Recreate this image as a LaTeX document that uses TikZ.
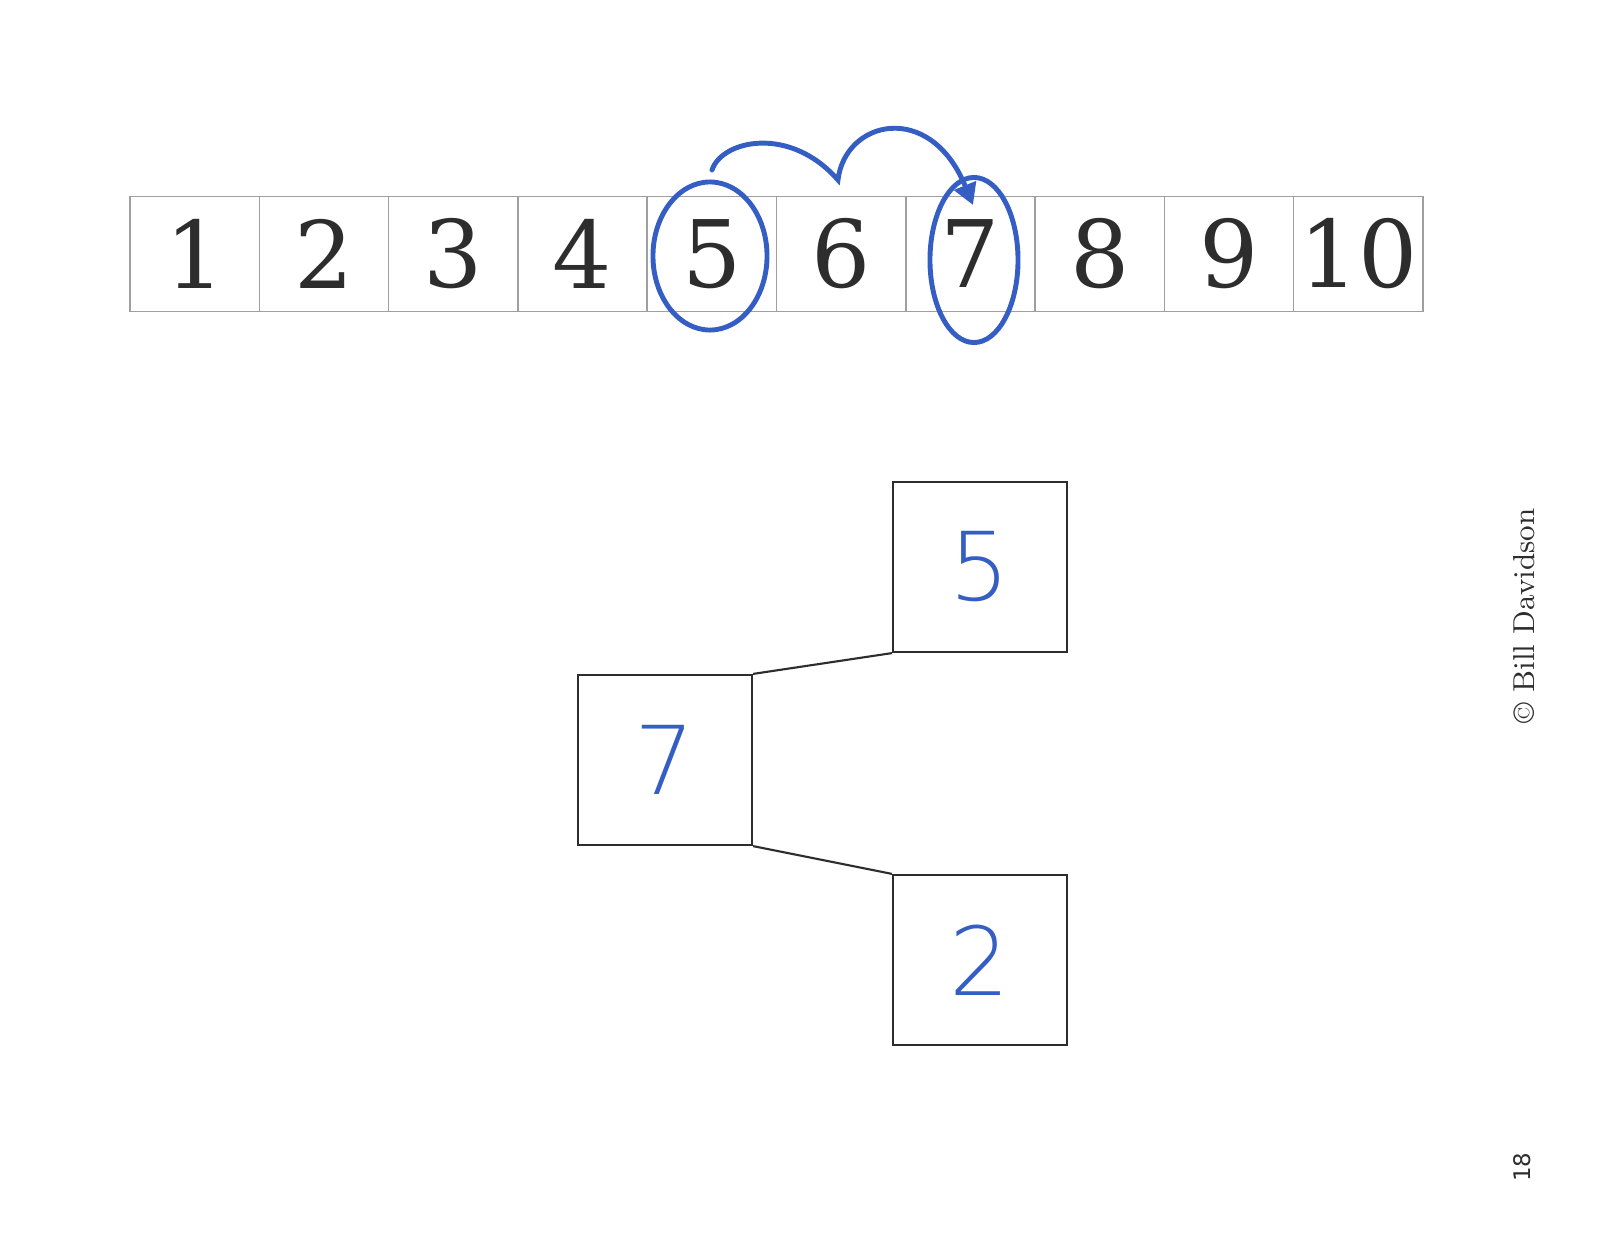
\documentclass[tikz,border=0pt]{standalone}
\usepackage{fontspec}
\usepackage{tikz}
\usetikzlibrary{shapes.geometric,arrows.meta}
\newfontfamily\handfont{DejaVu Sans}[UprightFont=* ExtraLight]
\newfontfamily\cellfont{DejaVu Serif}
\newfontfamily\pagefont{DejaVu Sans}
\definecolor{penblue}{RGB}{52,94,196}
\definecolor{inkgray}{RGB}{45,45,45}

\begin{document}
\begin{tikzpicture}[x=0.01cm,y=-0.01cm,
    cell/.style={draw=gray!75,line width=0.4pt,minimum width=1.293cm,minimum height=1.15cm,
        inner sep=0pt,text=inkgray,font=\cellfont\fontsize{26.5}{26.5}\selectfont},
    treebox/.style={draw=inkgray,line width=0.6pt,minimum width=1.74cm,minimum height=1.70cm,
        inner sep=0pt,text=penblue,font=\handfont\fontsize{27}{27}\selectfont},
    pen/.style={draw=penblue,line width=1.4pt,line cap=round}]
    \useasboundingbox (0,0) rectangle (1614,1239);

    % Array of numbers
    \foreach \i in {1,...,10}
        \node[cell] (c\i) at ({194.65+(\i-1)*129.3},254) {\i};

    % Rings round 5 and 7
    \node[pen,ellipse,minimum width=1.14cm,minimum height=1.48cm,inner sep=0pt] (ring5) at (710,256) {};
    \node[pen,ellipse,minimum width=0.88cm,minimum height=1.65cm,inner sep=0pt] (ring7) at (974,260) {};

    % Hop from 5 over 6 to 7
    \coordinate (hopstart) at (712,170);
    \coordinate (hopmid) at (838,180);
    \coordinate (hopend) at (973,205);
    \draw[pen,-{Triangle[length=6pt,width=6.5pt]}] (hopstart) .. controls (722,140) and (790,125) .. (hopmid)
        .. controls (845,120) and (930,100) .. (hopend);

    % Tree
    \node[treebox] (box5) at (980,567) {5};
    \node[treebox] (box7) at (665,760) {7};
    \node[treebox] (box2) at (980,960) {2};
    \draw[inkgray,line width=0.6pt] (box7.north east) -- (box5.south west);
    \draw[inkgray,line width=0.6pt] (box7.south east) -- (box2.north west);

    % Credit and page number
    \node[rotate=90,text=inkgray,font=\fontsize{8.6}{10}\selectfont] (credit) at (1524,616) {© Bill Davidson};
    \node[rotate=90,text=inkgray,font=\pagefont\fontsize{6.5}{8}\selectfont] (page) at (1522,1167) {18};

\end{tikzpicture}
\end{document}
